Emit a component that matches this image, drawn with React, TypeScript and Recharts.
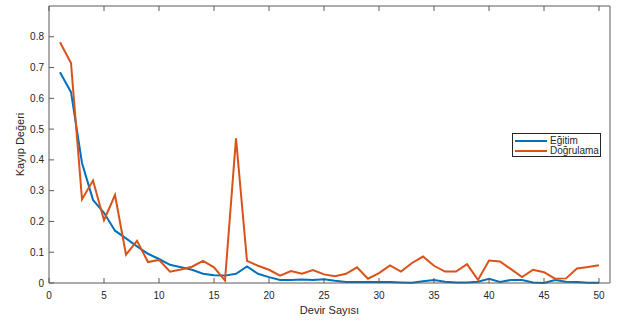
import { LineChart, Line, XAxis, YAxis, Legend } from 'recharts'

const AX = '#5a5a5a'
const TXT = '#262626'
const FONT = 'Liberation Sans, Arial, sans-serif'

const epochs = Array.from({ length: 50 }, (_, i) => i + 1)

const egitim = [
  0.685, 0.62, 0.39, 0.27, 0.228, 0.17, 0.145, 0.119, 0.095, 0.078,
  0.059, 0.051, 0.043, 0.03, 0.025, 0.024, 0.03, 0.054, 0.03, 0.019,
  0.01, 0.01, 0.011, 0.01, 0.012, 0.007, 0.003, 0.003, 0.003, 0.003,
  0.003, 0.002, 0.001, 0.006, 0.01, 0.004, 0.002, 0.002, 0.004, 0.014,
  0.003, 0.01, 0.01, 0.002, 0.0, 0.01, 0.004, 0.003, 0.001, 0.001,
]

const dogrulama = [
  0.782, 0.715, 0.272, 0.333, 0.204, 0.286, 0.092, 0.137, 0.068, 0.075,
  0.037, 0.044, 0.053, 0.072, 0.051, 0.008, 0.47, 0.072, 0.056, 0.043,
  0.024, 0.039, 0.03, 0.042, 0.028, 0.022, 0.03, 0.051, 0.014, 0.032,
  0.057, 0.037, 0.065, 0.086, 0.056, 0.037, 0.037, 0.061, 0.01, 0.073,
  0.07, 0.045, 0.019, 0.043, 0.035, 0.014, 0.015, 0.047, 0.052, 0.058,
]

const seriesNames = ['Eğitim', 'Doğrulama']
const xTicks = [0, 5, 10, 15, 20, 25, 30, 35, 40, 45, 50]
const yTicks = [0, 0.1, 0.2, 0.3, 0.4, 0.5, 0.6, 0.7, 0.8]

const data = epochs.map((e, i) => ({ epoch: e, egitim: egitim[i], dogrulama: dogrulama[i] }))

const BottomTick = (p: any) => (
  <g>
    <line x1={p.x} y1={p.y} x2={p.x} y2={p.y - 5} stroke={AX} />
    <text x={p.x} y={p.y + 15.5} textAnchor="middle" fontSize={10} fill={TXT} fontFamily={FONT}>
      {p.payload.value}
    </text>
  </g>
)

const TopTick = (p: any) => <line x1={p.x} y1={p.y} x2={p.x} y2={p.y + 5} stroke={AX} />

const LeftTick = (p: any) => (
  <g>
    <line x1={p.x} y1={p.y} x2={p.x + 5} y2={p.y} stroke={AX} />
    <text x={p.x - 5} y={p.y + 3.5} textAnchor="end" fontSize={10} fill={TXT} fontFamily={FONT}>
      {String(p.payload.value)}
    </text>
  </g>
)

const RightTick = (p: any) => <line x1={p.x} y1={p.y} x2={p.x - 5} y2={p.y} stroke={AX} />

const XLabel = (p: any) => {
  const vb = p.viewBox
  return (
    <text x={vb.x + vb.width / 2} y={vb.y + 31} textAnchor="middle" fontSize={11} fill={TXT} fontFamily={FONT}>
      Devir Sayısı
    </text>
  )
}

const YLabel = (p: any) => {
  const vb = p.viewBox
  const cx = vb.x + 24
  const cy = vb.y + vb.height / 2
  return (
    <text x={cx} y={cy} transform={`rotate(-90 ${cx} ${cy})`} textAnchor="middle" fontSize={11} fill={TXT} fontFamily={FONT}>
      Kayıp Değeri
    </text>
  )
}

const LegendBox = (props: any) => {
  const items = [...(props.payload || [])].sort(
    (a: any, b: any) => seriesNames.indexOf(a.value) - seriesNames.indexOf(b.value)
  )
  return (
    <div
      style={{
        width: 89, height: 24, boxSizing: 'border-box', border: '1px solid #262626',
        background: '#fff', paddingTop: 2, fontFamily: FONT, fontSize: 10, color: TXT, lineHeight: '10px',
      }}
    >
      {items.map((entry: any) => (
        <div key={entry.value} style={{ display: 'flex', alignItems: 'center', height: 10 }}>
          <div style={{ width: 32, height: 2, background: entry.color, marginLeft: 2, marginRight: 3 }} />
          <span>{entry.value}</span>
        </div>
      ))}
    </div>
  )
}

export default function App() {
  return (
    <div style={{ position: 'absolute', left: 0, top: 0, background: '#fff' }}>
      <LineChart width={619} height={322} data={data} margin={{ top: 5, right: 8, bottom: 9, left: 0 }}>
        <XAxis
          xAxisId="b" dataKey="epoch" type="number" domain={[0, 51]} ticks={xTicks}
          height={30} tickSize={0} tickMargin={0} tickLine={false} tick={BottomTick}
          axisLine={{ stroke: AX }} interval={0} label={XLabel}
        />
        <XAxis
          xAxisId="t" orientation="top" dataKey="epoch" type="number" domain={[0, 51]} ticks={xTicks}
          height={1} tickSize={0} tickMargin={0} tickLine={false} tick={TopTick}
          axisLine={{ stroke: AX }} interval={0}
        />
        <YAxis
          yAxisId="l" type="number" domain={[0, 0.9]} ticks={yTicks} width={49}
          tickSize={0} tickMargin={0} tickLine={false} tick={LeftTick}
          axisLine={{ stroke: AX }} interval={0} label={YLabel}
        />
        <YAxis
          yAxisId="r" orientation="right" type="number" domain={[0, 0.9]} ticks={yTicks} width={1}
          tickSize={0} tickMargin={0} tickLine={false} tick={RightTick}
          axisLine={{ stroke: AX }} interval={0}
        />
        <Legend
          layout="vertical" align="center" verticalAlign="middle"
          content={LegendBox}
          wrapperStyle={{ left: 512, top: 133, width: 89, height: 24 }}
        />
        <Line
          xAxisId="b" yAxisId="l" type="linear" dataKey="egitim" name={seriesNames[0]}
          stroke="#0072BD" strokeWidth={2} dot={false} isAnimationActive={false}
        />
        <Line
          xAxisId="b" yAxisId="l" type="linear" dataKey="dogrulama" name={seriesNames[1]}
          stroke="#D95319" strokeWidth={2} dot={false} isAnimationActive={false}
        />
      </LineChart>
    </div>
  )
}
